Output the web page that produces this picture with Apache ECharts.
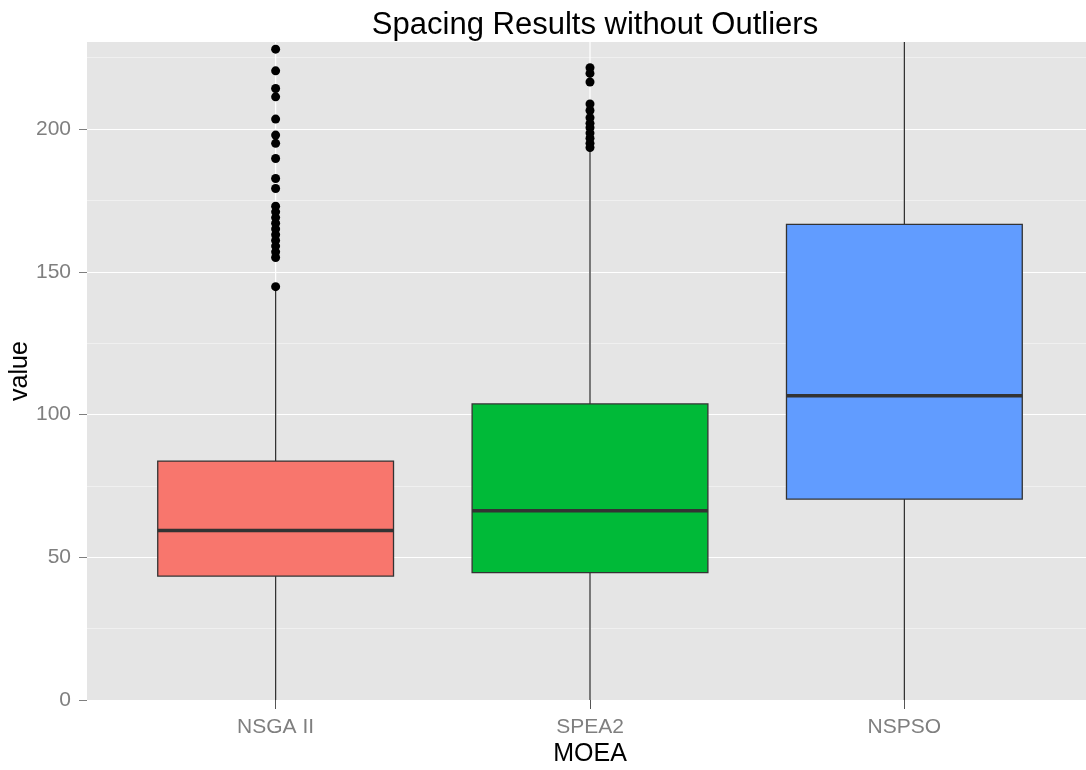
<!DOCTYPE html>
<html>
<head>
<meta charset="utf-8">
<script src="https://cdn.jsdelivr.net/npm/echarts@6/dist/echarts.min.js"></script>
<style>
html,body{margin:0;padding:0;background:#fff;}
#chart{width:1086px;height:770px;}
</style>
</head>
<body>
<div id="chart"></div>
<script>
// ---- data ----
var categories = ['NSGA II', 'SPEA2', 'NSPSO'];
var whiskerLow = [0, 0, 0];
var q1 = [43.4, 44.6, 70.4];
var median = [59.4, 66.3, 106.6];
var q3 = [83.7, 103.7, 166.6];
var whiskerHigh = [143.5, 192.6, 245];
var fillColors = ['#F8766D', '#00BA38', '#619CFF'];
var outliersNSGA = [228.0, 220.4, 214.2, 211.3, 203.5, 197.9, 195.0, 189.7, 182.7, 179.2,
  173, 171, 169, 167, 165, 163, 161, 159, 157, 155, 144.8];
var outliersSPEA = [221.5, 219.5, 216.5, 208.8, 206.5, 204, 202, 200.5, 198.6, 196.8, 195, 193.5];
var outliersNSPSO = [];
var yTicks = [0, 50, 100, 150, 200];

var Y_MIN = 0, Y_MAX = 230.5;
var FONT = 'Liberation Sans, Arial, sans-serif';

var boxData = categories.map(function (c, i) {
  return [i + 1, whiskerLow[i], q1[i], median[i], q3[i], whiskerHigh[i]];
});
var outlierData = [];
[outliersNSGA, outliersSPEA, outliersNSPSO].forEach(function (arr, i) {
  arr.forEach(function (v) { outlierData.push([i + 1, v]); });
});

function renderBox(params, api) {
  var x = api.value(0);
  var clampV = function (v) { return Math.max(Y_MIN, Math.min(Y_MAX, v)); };
  var c = function (v) { return api.coord([x, clampV(v)]); };
  var halfW = api.size([0.75, 0])[0] / 2;
  var lo = c(api.value(1)), pq1 = c(api.value(2)), pm = c(api.value(3)),
      pq3 = c(api.value(4)), hi = c(api.value(5));
  var top = api.coord([x, Y_MAX]), bot = api.coord([x, Y_MIN]);
  var stroke = '#333333';
  return {
    type: 'group',
    children: [
      { type: 'line', shape: { x1: top[0], y1: top[1], x2: bot[0], y2: bot[1] },
        style: { stroke: '#FFFFFF', lineWidth: 1.2 } },
      { type: 'line', shape: { x1: lo[0], y1: lo[1], x2: pq1[0], y2: pq1[1] },
        style: { stroke: stroke, lineWidth: 1.3 } },
      { type: 'line', shape: { x1: pq3[0], y1: pq3[1], x2: hi[0], y2: hi[1] },
        style: { stroke: stroke, lineWidth: 1.3 } },
      { type: 'rect', shape: { x: pq3[0] - halfW, y: pq3[1], width: 2 * halfW, height: pq1[1] - pq3[1] },
        style: { fill: fillColors[params.dataIndex], stroke: stroke, lineWidth: 1.3 } },
      { type: 'line', shape: { x1: pm[0] - halfW, y1: pm[1], x2: pm[0] + halfW, y2: pm[1] },
        style: { stroke: stroke, lineWidth: 3.6 } }
    ]
  };
}

var chart = echarts.init(document.getElementById('chart'), null, { renderer: 'canvas' });
chart.setOption({
  animation: false,
  backgroundColor: '#FFFFFF',
  textStyle: { fontFamily: FONT },
  title: {
    text: 'Spacing Results without Outliers',
    left: 590, top: 5, textAlign: 'center',
    textStyle: { fontFamily: FONT, fontSize: 31, fontWeight: 'normal', color: '#000000' }
  },
  grid: {
    left: 87, right: -7, top: 42, bottom: 70,
    show: true, backgroundColor: '#E5E5E5', borderWidth: 0,
    containLabel: false,
    outerBoundsMode: 'none'
  },
  xAxis: {
    type: 'value', min: 0.4, max: 3.6,
    name: 'MOEA', nameLocation: 'middle', nameGap: 42, nameMoveOverlap: false,
    nameTextStyle: { fontFamily: FONT, fontSize: 25, color: '#000000' },
    axisLine: { show: false },
    axisTick: { show: true, customValues: [1, 2, 3], length: 9, lineStyle: { color: '#555555', width: 1 } },
    axisLabel: {
      customValues: [1, 2, 3], margin: 17,
      fontFamily: FONT, fontSize: 21, color: '#7F7F7F',
      formatter: function (v) { return categories[Math.round(v) - 1] || ''; }
    },
    splitLine: { show: false }
  },
  yAxis: {
    type: 'value', min: Y_MIN, max: Y_MAX, interval: 50,
    name: 'value', nameLocation: 'middle', nameGap: 54, nameMoveOverlap: false,
    nameTextStyle: { fontFamily: FONT, fontSize: 25, color: '#000000' },
    axisLine: { show: false },
    axisTick: { show: true, customValues: yTicks, length: 8, lineStyle: { color: '#7F7F7F', width: 1 } },
    axisLabel: {
      customValues: yTicks, margin: 16, fontFamily: FONT, fontSize: 21, color: '#7F7F7F'
    },
    splitLine: { show: true, lineStyle: { color: '#FFFFFF', width: 1.2 } },
    minorTick: { show: false, splitNumber: 2 },
    minorSplitLine: { show: true, lineStyle: { color: '#F2F2F2', width: 0.8 } }
  },
  series: [
    {
      type: 'custom',
      clip: true,
      renderItem: renderBox,
      encode: { x: 0, y: [1, 2, 3, 4, 5] },
      data: boxData,
      z: 2
    },
    {
      type: 'scatter',
      data: outlierData,
      symbol: 'circle',
      symbolSize: 9,
      itemStyle: { color: '#000000', opacity: 1 },
      z: 3
    }
  ]
});
</script>
</body>
</html>
